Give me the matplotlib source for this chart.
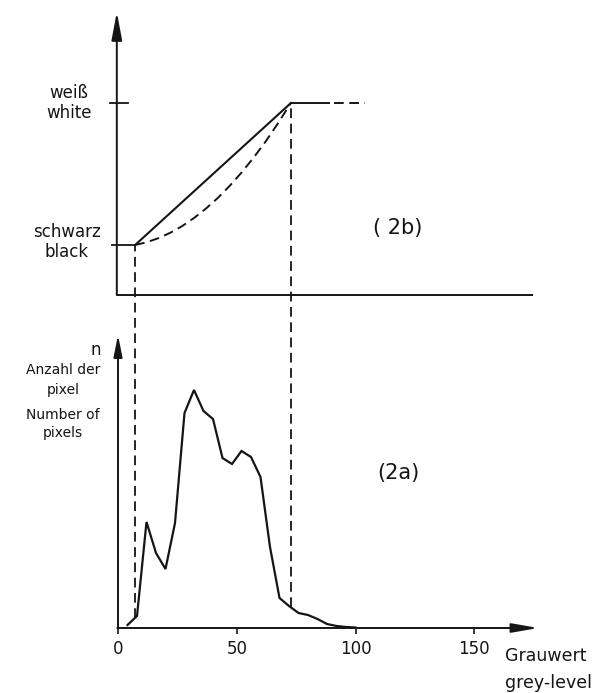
import numpy as np
import matplotlib
matplotlib.use("Agg")
import matplotlib.pyplot as plt

plt.rcParams['font.family'] = ['DejaVu Sans']
plt.rcParams['lines.scale_dashes'] = False

# ---------------- data ----------------
# histogram (2a): grey level vs. number of pixels (arbitrary units)
hist_grey = [4, 8, 12, 16, 20, 24, 28, 32, 36, 40, 44, 48, 52, 56, 60, 64, 68, 72, 76, 80, 84, 88, 92, 96, 100]
hist_count = [3, 12, 106, 75, 59, 105, 215, 238, 217, 209, 170, 164, 177, 171, 151, 81, 30, 22, 15, 13, 9, 4, 2, 1, 0.5]

# transfer curve (2b): black = 0, white = 1
black_grey, white_grey = 7.2, 72.8
linear_grey = [black_grey, white_grey]
linear_level = [0, 1]
curve_grey = [7.2, 12, 17, 22, 27, 32, 37, 42, 47, 52, 57, 62, 67, 72.8]
curve_level = [0, 0.019, 0.048, 0.086, 0.133, 0.19, 0.256, 0.331, 0.416, 0.51, 0.613, 0.725, 0.848, 1]
plateau_solid = [72.8, 89]
plateau_dash = [91, 104]

xticks = [0, 50, 100, 150]
xtick_labels = ["0", "50", "100", "150"]

# ---------------- layout ----------------
W, H = 615, 693
fig = plt.figure(figsize=(W / 100, H / 100), dpi=100)
px = 2.375  # pixels per grey unit
x0 = 118
XMAX = 177

ink = '#151515'
DASH = (0, (7.0, 4.0))

# bottom axes (2a)
ax_b = fig.add_axes([x0 / W, (H - 628) / H, XMAX * px / W, 293 / H])
ax_b.set_xlim(0, XMAX)
ax_b.set_ylim(0, 293)
# top axes (2b)
ax_t = fig.add_axes([x0 / W, (H - 295) / H, XMAX * px / W, 283 / H])
ax_t.set_xlim(0, XMAX)
ax_t.set_ylim(-50 / 142, 233 / 142)

for ax in (ax_b, ax_t):
    for s in ax.spines.values():
        s.set_visible(False)
    ax.set_yticks([])
    ax.patch.set_alpha(0)

ax_t.set_xticks([])

# bottom axis lines with arrows
arrow_kw = dict(arrowstyle='-|>,head_length=1.6,head_width=0.28', lw=1.4, color=ink,
                shrinkA=0, shrinkB=0)
ax_b.annotate('', xy=(XMAX, 0), xytext=(-0.3, 0), arrowprops=arrow_kw, annotation_clip=False)
ax_b.annotate('', xy=(0, 293), xytext=(0, 0),
              arrowprops=dict(arrow_kw, arrowstyle='-|>,head_length=1.3,head_width=0.26'),
              annotation_clip=False)
ax_b.set_xticks(xticks)
ax_b.set_xticklabels(xtick_labels, fontsize=12, color=ink)
ax_b.tick_params(axis='x', direction='out', length=4, width=1.2, color=ink, pad=5)

# top axis lines
ax_t.plot([-0.5, 174.7], [-50 / 142, -50 / 142], color=ink, lw=1.4, clip_on=False,
          solid_capstyle='butt')
ax_t.annotate('', xy=(-0.5, 233 / 142), xytext=(-0.5, -50 / 142),
              arrowprops=dict(arrow_kw, arrowstyle='-|>,head_length=1.7,head_width=0.32'),
              annotation_clip=False)

# level ticks
ax_t.plot([-3.4, 4.2], [1, 1], color=ink, lw=1.3, clip_on=False)
ax_t.plot([-2.5, black_grey], [0, 0], color=ink, lw=1.3, clip_on=False)

# transfer curves
ax_t.plot(linear_grey, linear_level, color=ink, lw=1.5)
ax_t.plot(curve_grey, curve_level, color=ink, lw=1.4, linestyle=DASH)
ax_t.plot(plateau_solid, [1, 1], color=ink, lw=1.4)
ax_t.plot(plateau_dash, [1, 1], color=ink, lw=1.4, linestyle=DASH)

# histogram
ax_b.plot(hist_grey, hist_count, color=ink, lw=1.6, solid_joinstyle='miter')

# vertical dashed connection lines
for g, lvl in ((black_grey, 0), (white_grey, 1)):
    disp = ax_t.transData.transform((g, lvl))
    ytop = ax_b.transData.inverted().transform(disp)[1]
    ybot = np.interp(g, hist_grey, hist_count)
    ax_b.plot([g, g], [ybot, ytop], color=ink, lw=1.3, linestyle=DASH, clip_on=False)

# labels
fs = 12
ax_t.text(-20.6, 1, "weiß\nwhite", ha='center', va='center', multialignment='center',
          fontsize=fs, linespacing=1.1, color=ink, clip_on=False)
ax_t.text(-21.5, 0.02, "schwarz\nblack", ha='center', va='center', multialignment='center',
          fontsize=fs, linespacing=1.1, color=ink, clip_on=False)
ax_t.text(117.9, 0.12, "( 2b)", ha='center', va='center', fontsize=15, color=ink)

ax_b.text(-9.3, 278, "n", ha='center', va='center', fontsize=12, color=ink, clip_on=False)
ax_b.text(-23.2, 258, "Anzahl der", ha='center', va='center', fontsize=10, color=ink, clip_on=False)
ax_b.text(-23.2, 238, "pixel", ha='center', va='center', fontsize=10, color=ink, clip_on=False)
ax_b.text(-23.2, 213, "Number of", ha='center', va='center', fontsize=10, color=ink, clip_on=False)
ax_b.text(-23.2, 195, "pixels", ha='center', va='center', fontsize=10, color=ink, clip_on=False)
ax_b.text(117.9, 155, "(2a)", ha='center', va='center', fontsize=15, color=ink)

ax_b.text(163, -28, "Grauwert", ha='left', va='center', fontsize=12.5, color=ink, clip_on=False)
ax_b.text(163, -55, "grey-level", ha='left', va='center', fontsize=12.5, color=ink, clip_on=False)

fig.savefig("out.png", dpi=100)
